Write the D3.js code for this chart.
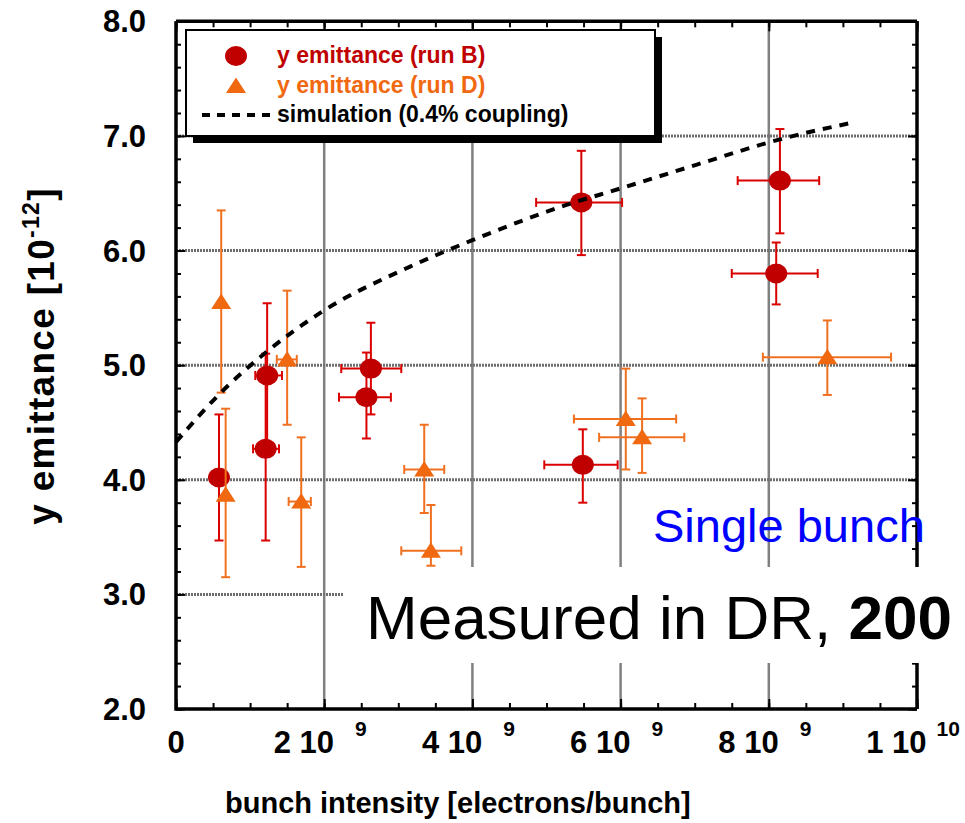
<!DOCTYPE html>
<html><head><meta charset="utf-8">
<script src="https://cdn.jsdelivr.net/npm/d3@7"></script>
<style>body{margin:0;background:#fff} svg{display:block}</style>
</head><body><svg id="c" width="965" height="823"></svg>
<script>
// ---- data (x in electrons/bunch, y in 1e-12) ----
const runB_x    = [0.58e9, 1.21e9, 1.23e9, 2.63e9, 2.57e9, 5.47e9, 5.49e9, 8.15e9, 8.10e9];
const runB_y    = [4.02, 4.27, 4.91, 4.97, 4.72, 6.42, 4.13, 6.61, 5.80];
const runB_yLo  = [3.47, 3.47, 4.28, 4.57, 4.36, 5.96, 3.80, 6.15, 5.53];
const runB_yHi  = [4.57, 5.10, 5.54, 5.37, 5.11, 6.87, 4.44, 7.06, 6.07];
const runB_xLo  = [null, 1.04e9, 1.07e9, 2.23e9, 2.20e9, 4.86e9, 4.97e9, 7.58e9, 7.50e9];
const runB_xHi  = [null, 1.39e9, 1.43e9, 3.04e9, 2.90e9, 6.02e9, 5.96e9, 8.68e9, 8.66e9];

const runD_x    = [0.61e9, 0.67e9, 1.50e9, 1.69e9, 3.35e9, 3.44e9, 6.07e9, 6.29e9, 8.79e9];
const runD_y    = [5.55, 3.87, 5.05, 3.81, 4.09, 3.38, 4.53, 4.37, 5.07];
const runD_yLo  = [4.76, 3.15, 4.48, 3.24, 3.71, 3.25, 4.09, 4.06, 4.74];
const runD_yHi  = [6.35, 4.62, 5.65, 4.37, 4.48, 3.78, 4.97, 4.71, 5.39];
const runD_xLo  = [null, null, 1.36e9, 1.52e9, 3.08e9, 3.04e9, 5.37e9, 5.71e9, 7.92e9];
const runD_xHi  = [null, null, 1.63e9, 1.82e9, 3.62e9, 3.85e9, 6.75e9, 6.86e9, 9.65e9];

const sim_x = [0, 0.59e9, 1.23e9, 1.98e9, 3.16e9, 4.0e9, 5.28e9, 5.99e9, 7.03e9, 8.15e9, 9.16e9];
const sim_y = [4.33, 4.75, 5.12, 5.47, 5.86, 6.09, 6.40, 6.54, 6.75, 6.97, 7.12];

const yTickValues = [2, 3, 4, 5, 6, 7, 8];
const yTickLabels = ["2.0", "3.0", "4.0", "5.0", "6.0", "7.0", "8.0"];
const xTickValues = [0, 2e9, 4e9, 6e9, 8e9, 1e10];
const xTickMant   = ["0", "2 10", "4 10", "6 10", "8 10", "1 10"];
const xTickExp    = ["", "9", "9", "9", "9", "10"];

const legendLabels = ["y emittance (run B)", "y emittance (run D)", "simulation (0.4% coupling)"];

// ---- styles ----
const FONT = "'Liberation Sans', Arial, Helvetica, sans-serif";
const RED = "#C00000", RED_BAR = "#DA0000";
const ORANGE = "#F0680F", ORANGE_BAR = "#F07020";
const GRID = "#808080";

const svg = d3.select("#c");
const L = 176, R = 917, T = 21.3, B = 709;
const x = d3.scaleLinear().domain([0, 1e10]).range([L, R]);
const y = d3.scaleLinear().domain([2, 8]).range([B, T]);

// ---- grid ----
const g = svg.append("g");
g.selectAll("line.vg").data([2e9, 4e9, 6e9, 8e9]).join("line")
  .attr("x1", d => x(d)).attr("x2", d => x(d)).attr("y1", T).attr("y2", B)
  .attr("stroke", GRID).attr("stroke-width", 2.5);
g.selectAll("line.hg").data([3, 4, 5, 6, 7]).join("line")
  .attr("x1", L).attr("x2", R).attr("y1", d => y(d)).attr("y2", d => y(d))
  .attr("stroke", "#6e6e6e").attr("stroke-width", 3).attr("stroke-dasharray", "2 1");

// ---- axes ticks (inward) ----
function styleAxis(sel) {
  sel.select(".domain").remove();
  sel.selectAll("text").remove();
  sel.selectAll("line").attr("stroke", "#000").attr("stroke-width", 2);
}
const yMinor = d3.range(2, 8.0001, 0.2).map(v => +v.toFixed(1));
const xMinor = d3.range(0, 1e10 + 1, 0.5e9);
const xMajor = [0, 2e9, 4e9, 6e9, 8e9, 1e10];
svg.append("g").attr("transform", `translate(${L},0)`).call(d3.axisLeft(y).tickValues(yMinor).tickSize(-5)).call(styleAxis);
svg.append("g").attr("transform", `translate(${L},0)`).call(d3.axisLeft(y).tickValues(yTickValues).tickSize(-9)).call(styleAxis);
svg.append("g").attr("transform", `translate(${R},0)`).call(d3.axisRight(y).tickValues(yMinor).tickSize(-5)).call(styleAxis);
svg.append("g").attr("transform", `translate(${R},0)`).call(d3.axisRight(y).tickValues(yTickValues).tickSize(-9)).call(styleAxis);
svg.append("g").attr("transform", `translate(0,${B})`).call(d3.axisBottom(x).tickValues(xMinor).tickSize(-6)).call(styleAxis);
svg.append("g").attr("transform", `translate(0,${B})`).call(d3.axisBottom(x).tickValues(xMajor).tickSize(-10)).call(styleAxis);
svg.append("g").attr("transform", `translate(0,${T})`).call(d3.axisTop(x).tickValues(xMinor).tickSize(-6)).call(styleAxis);
svg.append("g").attr("transform", `translate(0,${T})`).call(d3.axisTop(x).tickValues(xMajor).tickSize(-10)).call(styleAxis);

// frame
svg.append("path").attr("d", `M${L},${T}H${R}`).attr("stroke", "#000").attr("stroke-width", 3.5);
svg.append("path").attr("d", `M${L},${T}V${B}H${R}`).attr("stroke", "#000").attr("stroke-width", 3.5).attr("fill", "none");
svg.append("path").attr("d", `M${R},${T}V${B}`).attr("stroke", "#000").attr("stroke-width", 3.5);

// ---- data ----
function drawSeries(xs, ys, ylo, yhi, xlo, xhi, barColor, markerFn) {
  const gs = svg.append("g");
  const cap = 4.5;
  xs.forEach((xv, i) => {
    const cx = x(xv), cy = y(ys[i]);
    gs.append("line").attr("x1", cx).attr("x2", cx).attr("y1", y(yhi[i])).attr("y2", y(ylo[i]))
      .attr("stroke", barColor).attr("stroke-width", 2);
    [yhi[i], ylo[i]].forEach(v => gs.append("line").attr("x1", cx - cap).attr("x2", cx + cap)
      .attr("y1", y(v)).attr("y2", y(v)).attr("stroke", barColor).attr("stroke-width", 2));
    if (xlo[i] != null) {
      gs.append("line").attr("x1", x(xlo[i])).attr("x2", x(xhi[i])).attr("y1", cy).attr("y2", cy)
        .attr("stroke", barColor).attr("stroke-width", 2);
      [xlo[i], xhi[i]].forEach(v => gs.append("line").attr("x1", x(v)).attr("x2", x(v))
        .attr("y1", cy - cap).attr("y2", cy + cap).attr("stroke", barColor).attr("stroke-width", 2));
    }
  });
  xs.forEach((xv, i) => markerFn(gs, x(xv), y(ys[i])));
}
const circleMarker = (sel, cx, cy) => sel.append("ellipse").attr("cx", cx).attr("cy", cy).attr("rx", 11).attr("ry", 10).attr("fill", RED);
const triMarker = (sel, cx, cy) => sel.append("path").attr("d", `M${cx},${cy - 8.5}L${cx + 10},${cy + 7}L${cx - 10},${cy + 7}Z`).attr("fill", ORANGE);

drawSeries(runB_x, runB_y, runB_yLo, runB_yHi, runB_xLo, runB_xHi, RED_BAR, circleMarker);
drawSeries(runD_x, runD_y, runD_yLo, runD_yHi, runD_xLo, runD_xHi, ORANGE_BAR, triMarker);

// simulation
const simData = sim_x.map((v, i) => [v, sim_y[i]]);
svg.append("path").datum(simData)
  .attr("d", d3.line().x(d => x(d[0])).y(d => y(d[1])).curve(d3.curveMonotoneX))
  .attr("fill", "none").attr("stroke", "#000").attr("stroke-width", 4).attr("stroke-dasharray", "9 8");

// ---- legend ----
const lg = svg.append("g");
lg.append("rect").attr("x", 193).attr("y", 37).attr("width", 469).attr("height", 106).attr("fill", "#000");
lg.append("rect").attr("x", 186).attr("y", 30).attr("width", 469).attr("height", 106).attr("fill", "#fff").attr("stroke", "#000").attr("stroke-width", 2);
circleMarker(lg, 236, 56);
triMarker(lg, 236, 86);
lg.append("line").attr("x1", 202).attr("x2", 272).attr("y1", 115).attr("y2", 115)
  .attr("stroke", "#000").attr("stroke-width", 4).attr("stroke-dasharray", "8 7");
const legColors = [RED, ORANGE, "#000"];
const legBase = [63, 93, 122];
legendLabels.forEach((t, i) => lg.append("text").attr("x", 277).attr("y", legBase[i])
  .attr("font-family", FONT).attr("font-weight", "bold").attr("font-size", 23).attr("fill", legColors[i]).text(t));

// ---- y tick labels ----
yTickValues.forEach((v, i) => svg.append("text").attr("x", 146).attr("y", y(v) + 11)
  .attr("text-anchor", "end").attr("font-family", FONT).attr("font-weight", "bold").attr("font-size", 31).text(yTickLabels[i]));

// ---- x tick labels ----
xTickValues.forEach((v, i) => {
  const t = svg.append("text").attr("x", x(v) - (i === 0 ? 0 : 4)).attr("y", 753).attr("text-anchor", "middle")
    .attr("font-family", FONT).attr("font-weight", "bold").attr("font-size", 31);
  t.append("tspan").text(xTickMant[i]);
  if (xTickExp[i]) {
    t.append("tspan").attr("dx", 10 + (2 - xTickExp[i].length) * 11).attr("dy", -17).attr("font-size", 21).text(xTickExp[i]);
  }
});

// ---- axis titles ----
svg.append("text").attr("x", 225).attr("y", 813).attr("font-family", FONT).attr("font-weight", "bold")
  .attr("font-size", 29).text("bunch intensity [electrons/bunch]");
const yt = svg.append("text").attr("transform", "translate(54,356) rotate(-90)").attr("text-anchor", "middle")
  .attr("font-family", FONT).attr("font-weight", "bold").attr("font-size", 37).attr("letter-spacing", 1.3);
yt.append("tspan").text("y emittance [10");
yt.append("tspan").attr("dy", -15).attr("font-size", 23).text("-12");
yt.append("tspan").attr("dy", 15).text("]");

// ---- annotation box ----
svg.append("rect").attr("x", 343).attr("y", 567).attr("width", 622).attr("height", 96).attr("fill", "#fff");
const mt = svg.append("text").attr("x", 366).attr("y", 639).attr("font-family", FONT).attr("font-size", 62).attr("fill", "#000");
mt.append("tspan").text("Measured in DR, ");
mt.append("tspan").attr("font-weight", "bold").text("200");
svg.append("text").attr("x", 653).attr("y", 542).attr("font-family", FONT).attr("font-size", 47).attr("fill", "#0000FF").text("Single bunch");
</script>
</body></html>
